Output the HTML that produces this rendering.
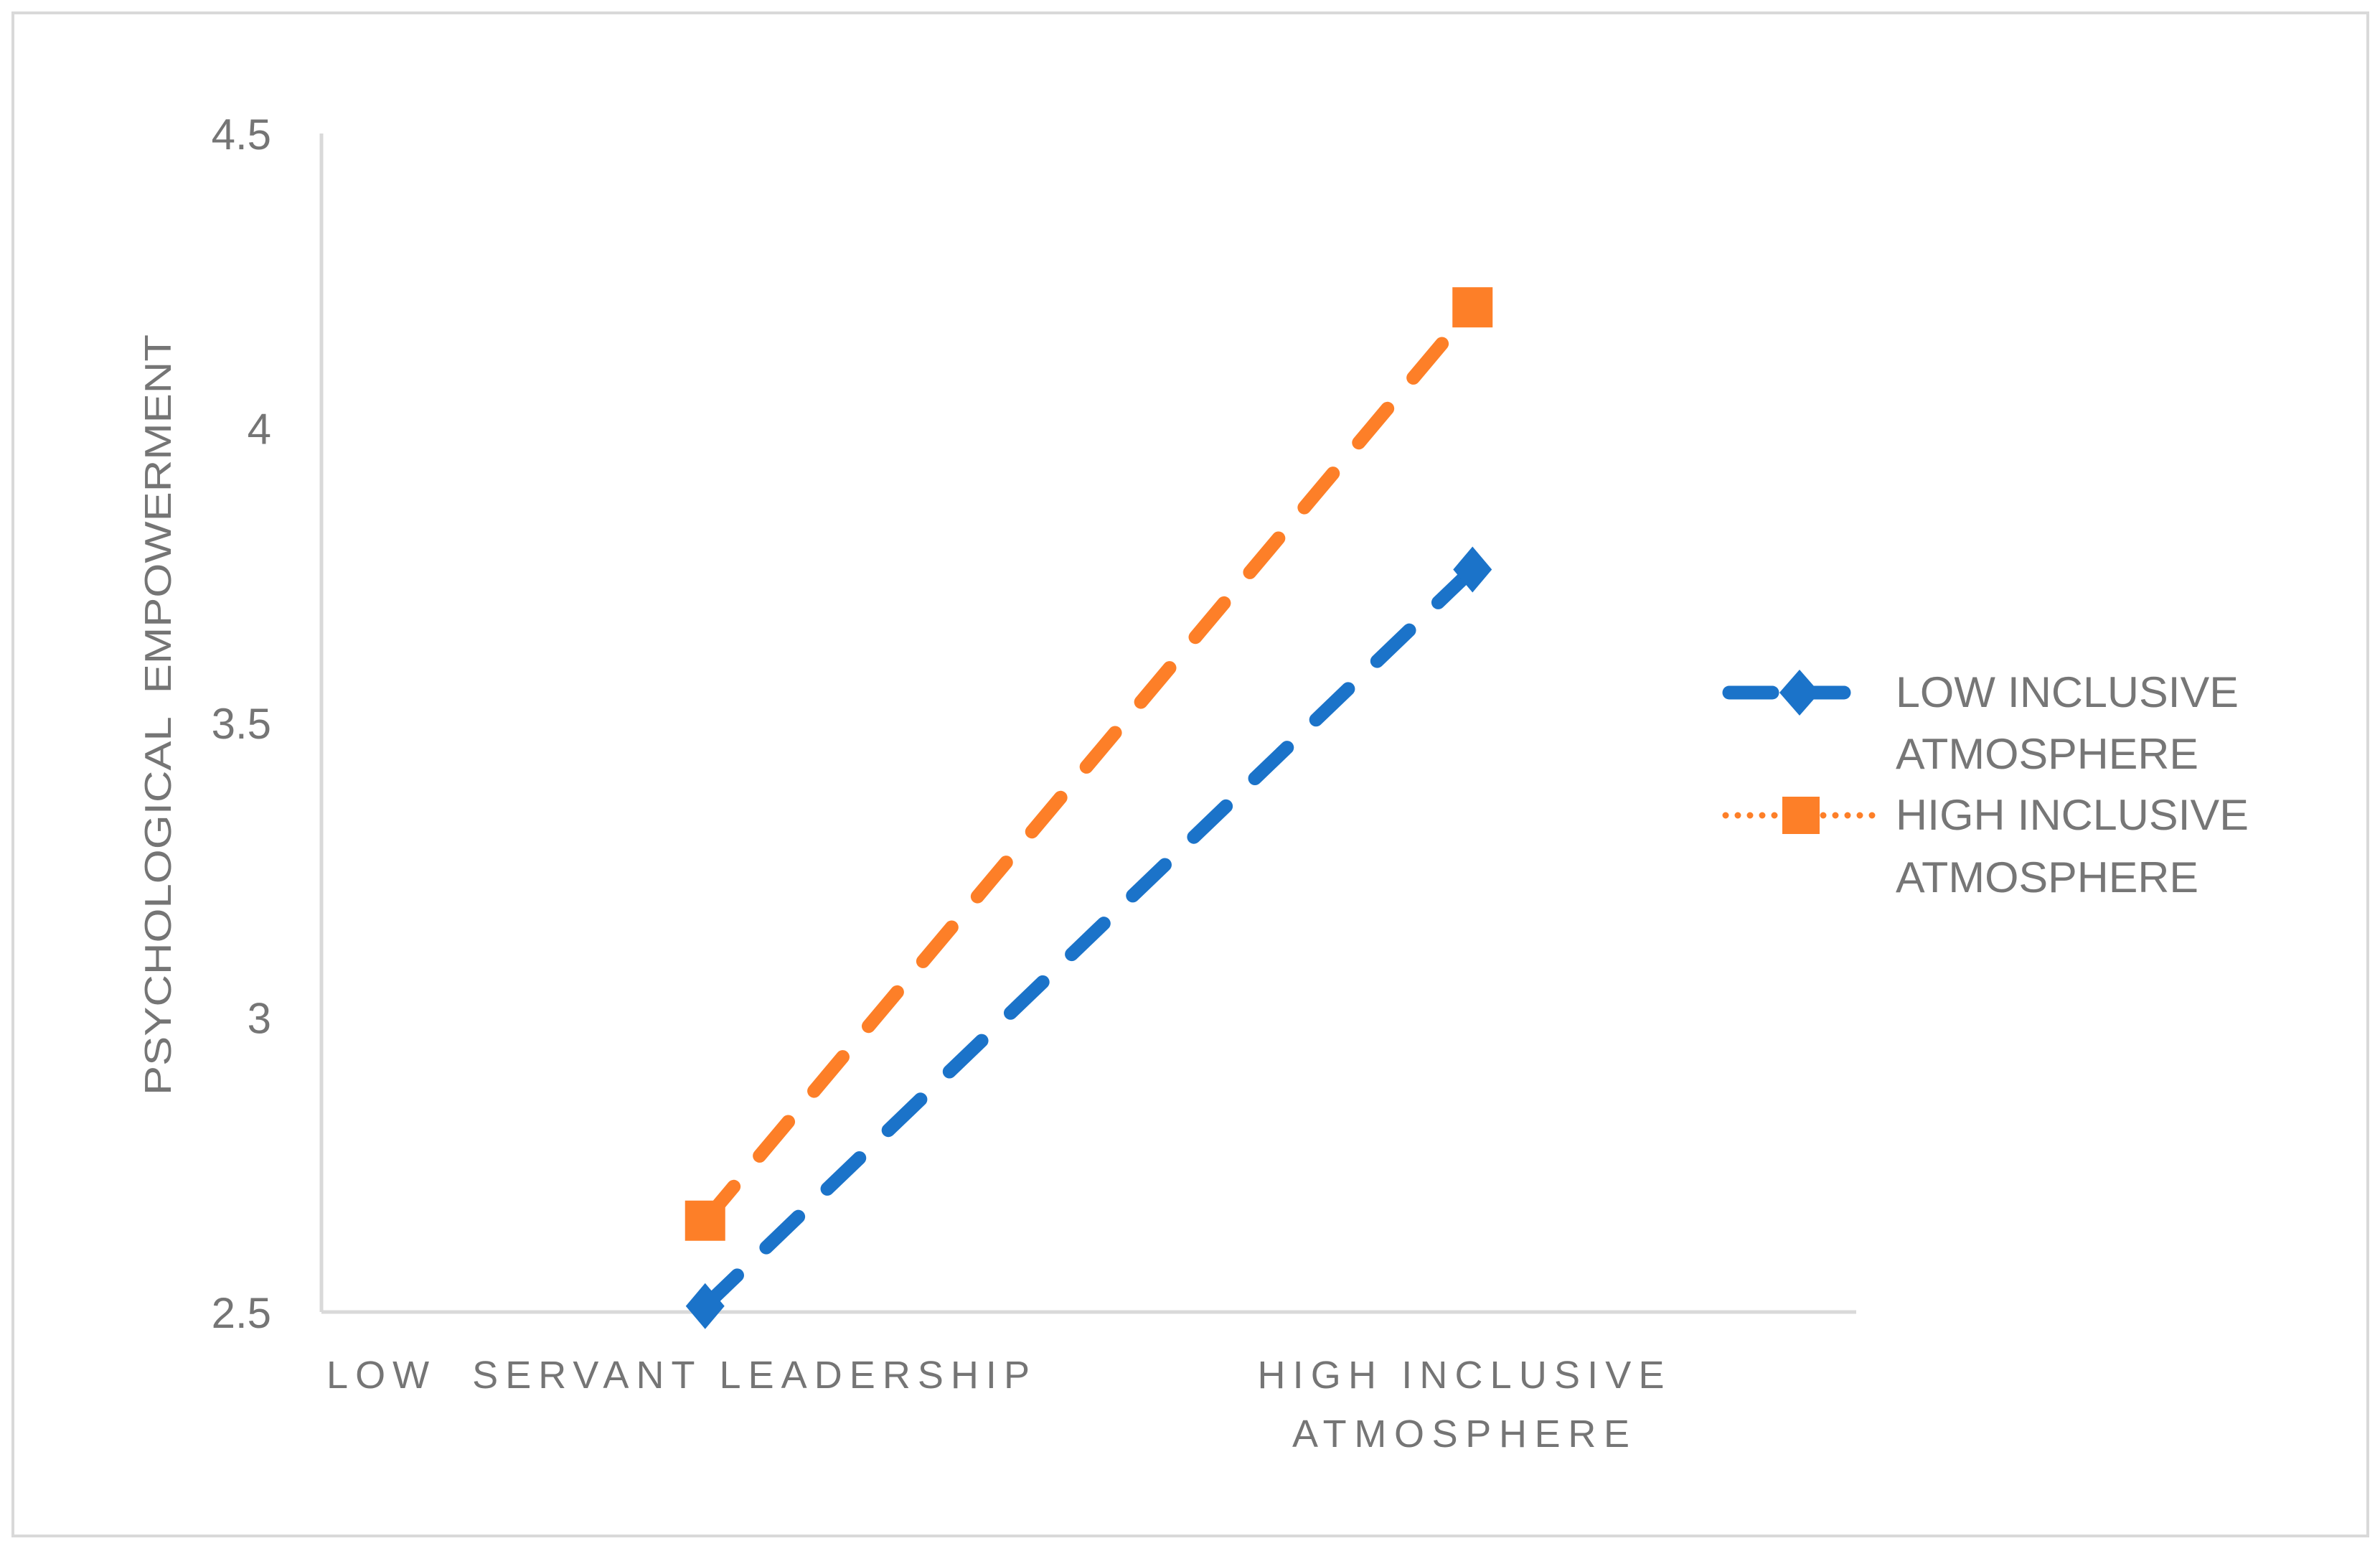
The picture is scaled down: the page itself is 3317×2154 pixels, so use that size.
<!DOCTYPE html>
<html><head><meta charset="utf-8"><style>
html,body{margin:0;padding:0;background:#fff;}
svg{display:block;font-family:"Liberation Sans",sans-serif;}
</style></head><body>
<svg id="chart" width="3317" height="2154" viewBox="0 0 3317 2154">
<rect x="18" y="18" width="3282" height="2122" fill="#fff" stroke="#d9d9d9" stroke-width="4"/>
<g id="axes"></g>
<g id="series"></g>
<text transform="translate(238,996) rotate(-90)" text-anchor="middle" font-size="52" fill="#757575" textLength="1060" lengthAdjust="spacingAndGlyphs" style="white-space:pre">PSYCHOLOGICAL  EMPOWERMENT</text>
<g>
<g>
<line x1="2410" y1="965" x2="2592" y2="965" stroke="#1b73c9" stroke-width="19" stroke-linecap="round" stroke-dasharray="60 40"/>
<polygon points="2508,933 2536,965 2508,997 2480,965" fill="#1b73c9"/>
<text x="2642" y="985" font-size="60" fill="#767676" textLength="478" lengthAdjust="spacingAndGlyphs">LOW INCLUSIVE</text>
<text x="2642" y="1071" font-size="60" fill="#767676" textLength="422" lengthAdjust="spacingAndGlyphs">ATMOSPHERE</text>
</g>
<g>
<line x1="2405" y1="1136" x2="2610" y2="1136" stroke="#fd7f28" stroke-width="9" stroke-linecap="round" stroke-dasharray="0 17"/>
<rect x="2484" y="1110" width="52" height="52" fill="#fd7f28"/>
<text x="2642" y="1156" font-size="60" fill="#767676" textLength="492" lengthAdjust="spacingAndGlyphs">HIGH INCLUSIVE</text>
<text x="2642" y="1243" font-size="60" fill="#767676" textLength="422" lengthAdjust="spacingAndGlyphs">ATMOSPHERE</text>
</g>
</g>
</svg>
<script>
const categories = ["LOW  SERVANT LEADERSHIP", "HIGH INCLUSIVE|ATMOSPHERE"];
const lowInclusive = [2.51, 3.76];
const highInclusive = [2.655, 4.205];
const yTicks = [2.5, 3, 3.5, 4, 4.5];
const yTickLabels = ["2.5", "3", "3.5", "4", "4.5"];

const NS = "http://www.w3.org/2000/svg";
const X0 = 448, X1 = 2587, Y0 = 1828, Y1 = 186, YMIN = 2.5, YMAX = 4.5;
function xPos(i){ return X0 + (X1 - X0) * (i + 0.5) / categories.length; }
function yPos(v){ return Y0 - (v - YMIN) / (YMAX - YMIN) * (Y0 - Y1); }
function mk(tag, attrs, parent){ const e = document.createElementNS(NS, tag); for (const k in attrs) e.setAttribute(k, attrs[k]); parent.appendChild(e); return e; }

const axes = document.getElementById("axes");
const yAxis = mk("line", {x1: X0, y1: Y1, x2: X0, y2: Y0, stroke: "#d9d9d9", "stroke-width": 5}, axes);


const xAxis = mk("line", {x1: X0, y1: Y0, x2: X1, y2: Y0, stroke: "#d9d9d9", "stroke-width": 5}, axes);


yTicks.forEach((v, i) => {
  const t = mk("text", {x: 378, y: yPos(v) + 22, "text-anchor": "end", "font-size": 60, fill: "#757575"}, axes);
  t.textContent = yTickLabels[i];
  
  
});
const catWidths = [[980], [567, 470]];
categories.forEach((c, i) => {
  const lines = c.split("|");
  lines.forEach((ln, j) => {
    const cx = i === 0 ? 945 : 2036;
    const t = mk("text", {x: cx, y: 1934 + j * 82, "text-anchor": "middle", "font-size": 54, fill: "#757575", textLength: catWidths[i][j], lengthAdjust: "spacing", style: "white-space:pre"}, axes);
    t.textContent = ln;
    
    
  });
});

const series = document.getElementById("series");
function drawSeries(vals, color, name, marker){
  const g = mk("g", {}, series);
  
  
  const pts = vals.map((v, i) => xPos(i) + "," + yPos(v)).join(" ");
  mk("polyline", {points: pts, fill: "none", stroke: color, "stroke-width": 19, "stroke-linecap": "round", "stroke-dasharray": "62 56"}, g);
  vals.forEach((v, i) => {
    const x = xPos(i), y = yPos(v);
    let m;
    if (marker === "diamond") m = mk("polygon", {points: `${x},${y-32} ${x+27},${y} ${x},${y+32} ${x-27},${y}`, fill: color}, g);
    else m = mk("rect", {x: x - 28, y: y - 28, width: 56, height: 56, fill: color}, g);
    
    
  });
}
drawSeries(highInclusive, "#fd7f28", "series-high-inclusive", "square");
drawSeries(lowInclusive, "#1b73c9", "series-low-inclusive", "diamond");
</script>
</body></html>
